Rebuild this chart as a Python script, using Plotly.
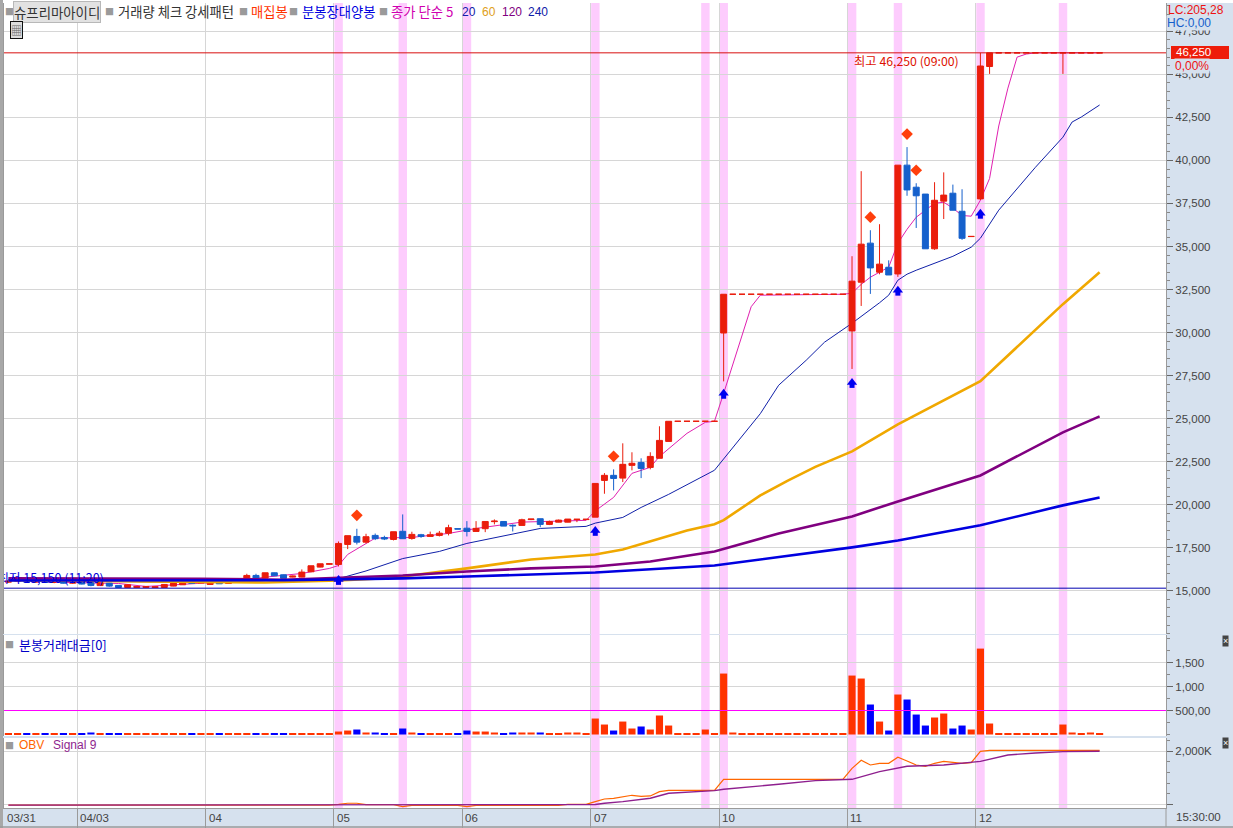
import plotly.graph_objects as go

W, H = 1233, 828

# ---------- candles, one row per bar: open, high, low, close ----------
candles = [
 (15500,15600,15450,15560),(15560,15620,15500,15590),(15590,15610,15480,15500),(15500,15590,15470,15560),
 (15560,15580,15460,15480),(15480,15560,15440,15530),(15530,15550,15420,15440),(15440,15520,15400,15490),
 (15490,15500,15370,15390),(15483,15500,15260,15310),(15300,15520,15280,15480),(15444,15460,15230,15270),
 (15309,15320,15170,15192),(15192,15350,15180,15347),(15190,15260,15180,15250),(15190,15255,15180,15250),
 (15190,15235,15180,15230),(15190,15370,15180,15367),(15270,15450,15260,15444),(15347,15490,15340,15483),
 (15502,15520,15420,15425),(15445,15510,15440,15502),(15367,15510,15340,15502),(15521,15540,15400,15405),
 (15425,15600,15420,15599),(15580,15677,15502,15599),(15540,15987,15530,15890),(15890,15987,15680,15696),
 (15735,16045,15720,16045),(16045,16060,15860,15870),(15929,15940,15700,15716),(15793,15880,15780,15851),
 (15793,16240,15780,16084),(16103,16452,16080,16452),(16374,16568,16360,16568),(16540,16568,16530,16568),
 (16528,17865,16412,17749),(17690,18200,17420,18200),(18155,18600,17690,17825),(17825,18310,17750,18140),
 (18215,18325,17945,18025),(18095,18195,17945,18005),(17980,18430,17925,18430),(18455,19435,18025,18025),
 (18040,18430,17965,18275),(18255,18305,18075,18155),(18155,18435,18155,18255),(18215,18475,18155,18345),
 (18345,18835,18215,18665),(18605,18605,18585,18585),(18635,19045,18155,18445),(18445,19045,18445,18625),
 (18605,19025,18405,19025),(19015,19145,18855,19045),(19025,19025,18755,18755),(18805,18855,18445,18775),
 (18795,19185,18795,19125),(19135,19165,19105,19165),(19185,19185,18695,18855),(18855,19075,18815,19025),
 (18985,19135,18975,19105),(18985,19165,18975,19165),(19135,19155,18985,19155),(19135,19155,19105,19155),
 (19275,21235,19275,21235),(21410,21835,20635,21705),(21705,22050,20830,21525),(21545,23565,21315,22345),
 (22285,23045,21995,22405),(22455,22695,21545,22105),(22165,23045,22055,22805),(22695,24555,22695,23735),
 (23675,24845,23675,24845),(24845,24845,24845,24845),(24845,24845,24845,24845),(24845,24845,24845,24845),
 (24845,24845,24845,24845),(24845,24845,24845,24845),(29975,32225,27165,32225),(32225,32225,32225,32225),
 (32225,32225,32225,32225),(32225,32225,32225,32225),(32225,32225,32225,32225),(32225,32225,32225,32225),
 (32225,32225,32225,32225),(32225,32225,32225,32225),(32225,32225,32225,32225),(32225,32225,32225,32225),
 (32225,32225,32225,32225),(32225,32225,32225,32225),(32225,32225,32225,32225),(32225,32225,32225,32225),
 (30095,34435,27885,32985),(32925,39375,31545,35135),(35195,35945,32245,33755),(33505,36295,33385,33975),
 (33795,34195,33345,33345),(33405,39725,33235,39725),(39725,40775,37945,38285),(38445,38675,36075,37945),
 (38045,38045,34865,34865),(34865,38735,34805,37685),(37635,39305,36595,37985),(38095,38595,37105,37105),
 (37045,38325,35385,35475),(35575,35585,35575,35585),(37765,46250,37695,45485),(45455,46250,45025,46250),
 (46250,46250,46250,46250),(46250,46250,46250,46250),(46250,46250,46250,46250),(46250,46250,46250,46250),
 (46250,46250,46250,46250),(46250,46250,46250,46250),(46250,46250,46250,46250),(46250,46250,45025,46250),
 (46250,46250,46250,46250),(46250,46250,46250,46250),(46250,46250,46250,46250),(46250,46250,46250,46250),
]
bars = list(range(len(candles)))
opens = [c[0] for c in candles]
highs = [c[1] for c in candles]
lows = [c[2] for c in candles]
closes = [c[3] for c in candles]

# ---------- moving averages, read at (bar, price) ----------
ma5_bar = [4,12,15,20,25,28,32,35,36,37,40,44,48,51,56,63,64,66,68,70,71,74,76,77,78,81,82,91,92,93,94,96,97,98,99,101,102,103,104,105,106,107,108,109,110,111,112,119]
ma5_val = [15500,15424,15250,15424,15560,15790,16005,16297,16470,17110,18058,18100,18330,18620,18990,19090,19640,20425,21820,22170,22800,24145,24785,24845,26470,31500,32170,32225,32285,32800,33215,33800,35190,36000,36700,37510,37570,37230,36800,36760,37690,38950,42000,44200,46000,46180,46250,46250]
ma20_bar = [0,20,36,39,43,47,50,54,58,63,64,67,69,72,77,82,84,87,89,92,94,95,96,97,98,99,103,105,106,107,108,112,115,116,117,119]
ma20_val = [15620,15480,15700,16150,16870,17285,17750,18200,18620,18740,18930,19260,19840,20600,22000,25290,26940,28390,29440,30540,31300,31730,32170,33040,33390,33620,34430,34960,35480,36300,37110,39600,41350,42230,42520,43220]
ma60_bar = [0,10,20,28,36,40,43,50,57,64,67,70,74,77,78,82,85,88,92,97,106,115,119]
ma60_val = [15620,15560,15500,15480,15600,15700,15830,16300,16820,17110,17400,17870,18500,18860,19100,20540,21400,22200,23100,24670,27170,31650,33500]
ma120_bar = [0,10,21,30,36,43,50,57,64,70,77,84,92,97,106,115,119]
ma120_val = [15720,15720,15700,15640,15740,15890,16120,16300,16410,16700,17280,18330,19320,20190,21700,24200,25130]
ma240_bar = [0,15,30,36,43,50,64,77,84,92,97,106,115,119]
ma240_val = [15600,15600,15610,15660,15720,15830,16060,16470,16940,17520,17920,18800,19960,20420]

# ---------- signals ----------
arrow_bar = [36,64,78,92,97,106]
arrow_val = [15657,18506,26470,27100,32460,36930]
diamond_bar = [38,66,94,98,99]
diamond_val = [19380,22810,36700,41530,39430]
band_bars = [36,43,50,64,76,78,92,97,106,115]
high_price = 46250
low_price = 15150

# ---------- traded value per bar ----------
volume = [14,14,14,14,14,14,14,14,14,42,14,14,14,14,14,14,14,14,14,14,14,14,14,14,14,14,14,14,14,14,14,14,14,14,14,14,
 62,83,104,42,42,14,14,125,42,14,14,14,14,14,83,62,62,42,14,42,42,42,42,14,14,42,42,14,
 333,208,83,270,125,167,104,396,187,14,14,14,104,14,1270,42,14,14,14,14,14,14,14,14,14,14,14,14,
 1228,1166,625,270,83,833,729,416,187,354,437,125,187,104,1790,229,14,14,14,14,14,14,14,208,42,14,42,14]
volume_line = 500

# ---------- OBV (thousands) per bar, signal read at (bar, value) ----------
obv = [-30]*36 + [0,40,40,-10,-10,-10,-10,-88,-40,-40,-40,-40,-40,-40,-90,-40,-40,-40,-40,-40,-40,-40,-40,-40,-40,0,0,0,
 100,200,226,290,340,300,315,478,528,528,528,528,528,528,943,943,943,943,943,943,943,943,943,943,943,943,943,943,
 1358,1660,1484,1547,1547,1774,1635,1484,1434,1547,1622,1597,1547,1572,2000,2038,2038,2038,2038,2038,2038,2038,2038,2038,2038,2038,2038,2038]
signal_bar = [0,36,43,50,63,64,65,67,70,72,77,78,84,88,92,95,98,102,106,109,112,115,119]
signal_val = [-30,-25,-35,-40,-30,-10,40,100,226,415,516,566,755,893,943,1233,1434,1484,1620,1862,1937,1987,2000]

price_ticks = list(range(15000, 47501, 2500))
volume_ticks = [500, 1000, 1500]
volume_labels = ["500,00", "1,000", "1,500"]
date_grid = [7.5, 21.5, 35.5, 49.5, 63.5, 77.5, 91.5, 105.5]
date_bars = [-0.45, 7.5, 21.5, 35.5, 49.5, 63.5, 77.5, 91.5, 105.5]
date_labels = ["03/31", "04/03", "04", "05", "06", "07", "10", "11", "12"]

UP, DOWN = "#ea1d0c", "#1560cc"
VOL_UP, VOL_DOWN = "#ff3300", "#0000ff"
MA5, MA20, MA60, MA120, MA240 = "#e020b0", "#1020a8", "#f0a800", "#800080", "#0000e0"
GRID = "#d6d6d6"
PANEL = "#d6e1ee"
SANS = "'Noto Sans CJK KR', 'Liberation Sans', sans-serif"
NUM = "'Liberation Sans', sans-serif"

def py(p):
    return 1 - p / H

X_RANGE = [-0.48, 126.24]
fig = go.Figure()

# thin averages sit under the candles
fig.add_trace(go.Scatter(x=ma5_bar, y=ma5_val, mode="lines", line=dict(color=MA5, width=1), yaxis="y", hoverinfo="skip"))
fig.add_trace(go.Scatter(x=ma20_bar, y=ma20_val, mode="lines", line=dict(color=MA20, width=1), yaxis="y", hoverinfo="skip"))

fig.add_trace(go.Candlestick(x=bars, open=opens, high=highs, low=lows, close=closes, yaxis="y4",
    increasing=dict(line=dict(color=UP, width=1), fillcolor=UP),
    decreasing=dict(line=dict(color=DOWN, width=1), fillcolor=DOWN), hoverinfo="skip"))

for bx, vx, col, wd in [(ma60_bar, ma60_val, MA60, 2.6), (ma120_bar, ma120_val, MA120, 2.6), (ma240_bar, ma240_val, MA240, 2.6)]:
    fig.add_trace(go.Scatter(x=bx, y=vx, mode="lines", line=dict(color=col, width=wd), yaxis="y5", hoverinfo="skip"))

fig.add_trace(go.Scatter(x=X_RANGE, y=[high_price]*2, mode="lines", line=dict(color="#d81010", width=1), yaxis="y5", hoverinfo="skip"))
fig.add_trace(go.Scatter(x=X_RANGE, y=[low_price]*2, mode="lines", line=dict(color="#0000b0", width=1), yaxis="y5", hoverinfo="skip"))

# arrows: head and stem
fig.add_trace(go.Scatter(x=arrow_bar, y=arrow_val, mode="markers", yaxis="y5", hoverinfo="skip",
    marker=dict(symbol="triangle-up", size=9, color="#0000f0", line=dict(width=0))))
fig.add_trace(go.Scatter(x=arrow_bar, y=[v - 170 for v in arrow_val], mode="markers", yaxis="y5", hoverinfo="skip",
    marker=dict(symbol="square", size=5, color="#0000f0", line=dict(width=0))))
fig.add_trace(go.Scatter(x=diamond_bar, y=diamond_val, mode="markers", yaxis="y5", hoverinfo="skip",
    marker=dict(symbol="diamond", size=9, color="#ff3f0c", line=dict(width=0))))
fig.add_trace(go.Scatter(x=[-1.2], y=[15640], mode="text", text=["최저 15,150 (11:20)"], textposition="middle right",
    textfont=dict(color="#0000dd", size=12.5, family=SANS), yaxis="y5", cliponaxis=True, hoverinfo="skip"))

# traded value
vol_colors = [VOL_UP if c >= o else VOL_DOWN for o, c in zip(opens, closes)]
fig.add_trace(go.Bar(x=bars, y=volume, marker=dict(color=vol_colors, line=dict(width=0)), width=0.78, yaxis="y2", hoverinfo="skip"))
fig.add_trace(go.Scatter(x=X_RANGE, y=[volume_line]*2, mode="lines", line=dict(color="#ff00ff", width=1), yaxis="y2", hoverinfo="skip"))

# OBV
fig.add_trace(go.Scatter(x=bars, y=obv, mode="lines", line=dict(color="#ff6600", width=1.2), yaxis="y3", hoverinfo="skip"))
fig.add_trace(go.Scatter(x=signal_bar, y=signal_val, mode="lines", line=dict(color="#8e1f8e", width=1.4), yaxis="y3", hoverinfo="skip"))

ann = []
def label(x, y, text, color="#333333", size=12, family=SANS, anchor="left", **kw):
    ann.append(dict(xref="paper", yref="paper", x=x / W, y=py(y), text=text, showarrow=False,
                    xanchor=anchor, yanchor="middle", font=dict(color=color, size=size, family=family), **kw))

bullet = "#9a9a9a"
for bx in [9, 109, 243, 293, 383]:
    label(bx, 12, "■", bullet, 9, anchor="center")
label(13, 12, "슈프리마아이디", "#333333", 13.4, bordercolor="#b8b8b8", borderwidth=1, bgcolor="#e2e2e2", borderpad=0)
label(116, 12, "거래량 체크 강세패턴", "#333333", 13.3)
label(249, 12, "매집봉", "#ff3300", 13.3)
label(300, 12, "분봉장대양봉", "#0000e0", 13.3)
label(389, 12, "종가 단순 5", "#d000b0", 13.3)
label(460, 12, "20", "#1020a8", 12, NUM)
label(480, 12, "60", "#e0a020", 12, NUM)
label(500, 12, "120", "#800080", 12, NUM)
label(526, 12, "240", "#1020a8", 12, NUM)
label(16, 30, "▦", "#666666", 11, anchor="center", bordercolor="#111111", borderwidth=1, bgcolor="#dddddd", borderpad=0)
label(852, 61, "최고 46,250 (09:00)", "#dd1100", 12.3)
label(9, 644, "■", bullet, 9, anchor="center")
label(17, 644, "분봉거래대금[0]", "#0000c8", 13)
label(9, 745, "■", bullet, 9, anchor="center")
label(17, 745, "OBV", "#ff6600", 12, NUM)
label(51, 745, "Signal 9", "#8e1f8e", 12, NUM)
label(1166, 23, "HC:0,00", "#1560cc", 12, NUM, bgcolor=PANEL, borderpad=0)
label(1166, 10, "LC:205,28", "#ee1111", 12, NUM)
label(1174, 52.5, "46,250", "#ffffff", 11.5, NUM)
label(1174, 65.5, "0,00%", "#ee1111", 12, NUM, bgcolor=PANEL, borderpad=0)
label(1174, 817, "15:30:00", "#444444", 11.5, NUM)
for yy in [641, 743]:
    label(1225, yy, "×", "#ffffff", 9, NUM, anchor="center", bgcolor="#444444", borderpad=0)
for b, t in zip(date_bars, date_labels):
    ann.append(dict(xref="x", yref="paper", x=b, xshift=1, y=py(818), text=t, showarrow=False, xanchor="left", yanchor="middle",
                    font=dict(color="#444444", size=11.5, family=NUM)))

shapes = []
for b in band_bars:
    shapes.append(dict(type="rect", xref="x", yref="paper", x0=b - 0.45, x1=b + 0.47, y0=py(808), y1=py(3),
                       fillcolor="#fdccfd", line=dict(width=0), layer="below"))
# frame strips
shapes.append(dict(type="rect", xref="paper", yref="paper", x0=0, x1=3 / W, y0=py(828), y1=1, fillcolor="#a8a8a8", line=dict(width=0), layer="above"))
shapes.append(dict(type="rect", xref="paper", yref="paper", x0=0, x1=1, y0=py(3), y1=1, fillcolor="#ffffff", line=dict(width=0), layer="below"))
shapes.append(dict(type="rect", xref="paper", yref="paper", x0=1171 / W, x1=1229 / W, y0=py(59), y1=py(46), fillcolor="#ee1c0a", line=dict(width=0), layer="above"))
shapes.append(dict(type="line", xref="paper", yref="paper", x0=0, x1=1, y0=py(827), y1=py(827), line=dict(color="#9a9a9a", width=1.5), layer="above"))
shapes.append(dict(type="line", xref="paper", yref="paper", x0=1166 / W, x1=1166 / W, y0=py(827), y1=py(808), line=dict(color="#9a9a9a", width=1), layer="above"))

AXLINE = "#9a9a9a"
common_y = dict(side="right", anchor="x", showline=True, linecolor=AXLINE, mirror=True, zeroline=False,
                ticks="outside", ticklen=6, tickcolor="#666666", gridcolor=GRID, gridwidth=1.3,
                tickfont=dict(size=11.5, family=NUM, color="#444444"))
MAIN_RANGE = [12488, 49145]
overlay = dict(overlaying="y", anchor="x", side="right", range=MAIN_RANGE, showgrid=False, showticklabels=False,
               ticks="", zeroline=False, showline=False)

fig.update_layout(
    width=W, height=H, margin=dict(l=0, r=0, t=0, b=0), autosize=False, showlegend=False,
    paper_bgcolor=PANEL, plot_bgcolor="#ffffff", barmode="overlay", boxgap=0.35, boxgroupgap=0,
    xaxis=dict(domain=[4 / W, 1166 / W], range=X_RANGE, anchor="y3", tickmode="array", tickvals=date_grid,
               ticktext=[""] * len(date_grid), showticklabels=True, ticks="outside", ticklen=19, tickcolor=AXLINE,
               showgrid=True, gridcolor=GRID, gridwidth=1.3, zeroline=False, showline=True, linecolor=AXLINE,
               rangeslider=dict(visible=False)),
    yaxis=dict(domain=[py(634), py(3)], range=MAIN_RANGE, tickmode="array", tickvals=price_ticks,
               ticktext=[f"{t:,}" for t in price_ticks],
               minor=dict(dtick=500, ticks="outside", ticklen=3, tickcolor="#888888", showgrid=False), **common_y),
    yaxis4=overlay, yaxis5=dict(overlay),
    yaxis2=dict(domain=[py(736), py(635)], range=[-31, 2073], tickmode="array", tickvals=volume_ticks, ticktext=volume_labels,
                minor=dict(dtick=250, ticks="outside", ticklen=3, tickcolor="#888888", showgrid=False), **common_y),
    yaxis3=dict(domain=[py(808), py(738)], range=[-140, 2502], tickmode="array", tickvals=[0, 2000], ticktext=["", "2,000K"],
                minor=dict(dtick=400, ticks="outside", ticklen=3, tickcolor="#888888", showgrid=False), **common_y),
    annotations=ann, shapes=shapes, font=dict(family=SANS),
)

fig.write_html("out.html", config=dict(displayModeBar=False),
               post_script="document.body.style.margin='0';document.documentElement.style.overflow='hidden';")
